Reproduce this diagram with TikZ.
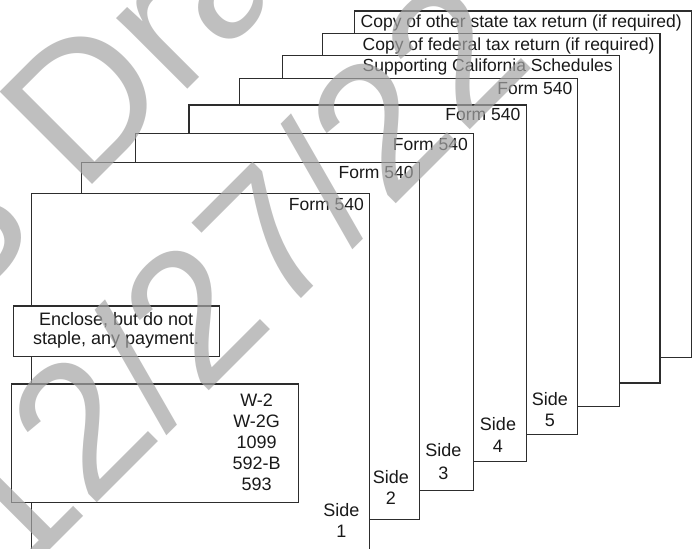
\documentclass[tikz,border=0pt]{standalone}
\usepackage{fontspec}
\setmainfont{Liberation Sans}
\definecolor{ln}{RGB}{45,45,45}
\definecolor{tx}{RGB}{25,25,25}
\definecolor{wm}{RGB}{165,165,165}
\begin{document}
\begin{tikzpicture}[x=1pt,y=-1pt,
  sheet/.style={draw=ln, fill=white, line width=1.1pt},
  box/.style={draw=ln, fill=white, line width=1.1pt},
  hdr/.style={inner sep=0pt, text=tx, font=\fontsize{17.5}{21}\selectfont},
  lbl/.style={inner sep=0pt, text=tx, font=\fontsize{18}{21}\selectfont, anchor=base},
  wmk/.style={inner sep=0pt, text=wm, text opacity=0.7, font=\fontsize{190}{228}\selectfont, rotate=45, anchor=base west}]
\useasboundingbox[fill=white] (0,0) rectangle (697,549);
% sheets, back to front
\draw[sheet] (354.3,11) rectangle (691.7,357.3);
\node[hdr, anchor=base west] (h8) at (360.5,27.3) {Copy of other state tax return (if required)};
\draw[sheet] (322.3,33.7) rectangle (660,383);
\node[hdr, anchor=base west] (h7) at (362.5,50.7) {Copy of federal tax return (if required)};
\draw[sheet] (282.3,55.7) rectangle (619.3,406.7);
\node[hdr, anchor=base west] (h6) at (362.5,71.7) {Supporting California Schedules};
\draw[sheet] (239.3,78.3) rectangle (577.3,434.7);
\node[hdr, anchor=base east] (f5) at (572.5,94) {Form 540};
\node[lbl] (s5a) at (549.8,405) {Side};
\node[lbl] (s5b) at (549.8,426) {5};
\draw[sheet] (189,105) rectangle (526.3,461.3);
\node[hdr, anchor=base east] (f4) at (520.5,120.7) {Form 540};
\node[lbl] (s4a) at (498,430) {Side};
\node[lbl] (s4b) at (498,452.3) {4};
\draw[sheet] (135.3,133.3) rectangle (473.3,490.7);
\node[hdr, anchor=base east] (f3) at (468,150.7) {Form 540};
\node[lbl] (s3a) at (443.3,456.7) {Side};
\node[lbl] (s3b) at (443.3,479) {3};
\draw[sheet] (81.7,162.3) rectangle (419.3,519.7);
\node[hdr, anchor=base east] (f2) at (413.8,178.3) {Form 540};
\node[lbl] (s2a) at (391,483.3) {Side};
\node[lbl] (s2b) at (391,504) {2};
\draw[sheet] (31.7,560) -- (31.7,193.3) -- (369.3,193.3) -- (369.3,560);
\node[hdr, anchor=base east] (f1) at (364,210.7) {Form 540};
\node[lbl] (s1a) at (341.4,516.5) {Side};
\node[lbl] (s1b) at (341.4,537.5) {1};
% enclosure boxes
\draw[box] (13.3,306) rectangle (219.2,356.7);
\node[lbl] (e1) at (116.2,325.5) {Enclose, but do not};
\node[lbl] (e2) at (116.2,344.5) {staple, any payment.};
\draw[box] (11.7,384) rectangle (298.3,502.7);
\node[lbl] (w1) at (256.6,406) {W-2};
\node[lbl] (w2) at (256.6,427) {W-2G};
\node[lbl] (w3) at (256.6,448) {1099};
\node[lbl] (w4) at (256.6,469) {592-B};
\node[lbl] (w5) at (256.6,490) {593};
% watermark
\node[wmk] (wm1) at (-210,487) {FTB Draft};
\node[wmk] (wm2) at (15.5,584.5) {12/27/22};
\end{tikzpicture}
\end{document}
